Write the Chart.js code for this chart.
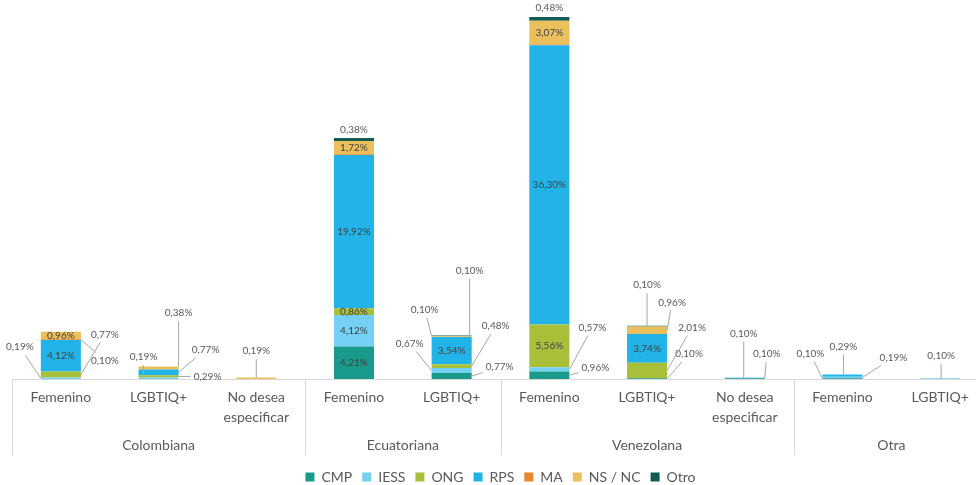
<!DOCTYPE html>
<html>
<head>
<meta charset="utf-8">
<script src="https://cdn.jsdelivr.net/npm/chart.js@4.4.1/dist/chart.umd.min.js"></script>
<style>
  html, body { margin: 0; padding: 0; background: #fff; overflow: hidden; }
  #wrap { width: 992px; height: 494px; }
</style>
</head>
<body>
<div id="wrap"><canvas id="chart"></canvas></div>
<script>
const categories = ['Femenino', 'LGBTIQ+', ['No desea', 'especificar'], 'Femenino', 'LGBTIQ+',
  'Femenino', 'LGBTIQ+', ['No desea', 'especificar'], 'Femenino', 'LGBTIQ+'];
const groups = ['Colombiana', 'Colombiana', 'Colombiana', 'Ecuatoriana', 'Ecuatoriana',
  'Venezolana', 'Venezolana', 'Venezolana', 'Otra', 'Otra'];

const cmp  = [0, 0, 0, 4.21, 0.77, 0.96, 0.10, 0.10, 0.10, 0];
const iess = [0.19, 0.19, 0, 4.12, 0.67, 0.57, 0, 0.10, 0.19, 0.10];
const ong  = [0.77, 0.29, 0, 0.86, 0.48, 5.56, 2.01, 0, 0, 0];
const rps  = [4.12, 0.77, 0, 19.92, 3.54, 36.30, 3.74, 0, 0.29, 0];
const ma   = [0.10, 0, 0, 0.10, 0, 0.10, 0, 0, 0, 0];
const nsnc = [0.96, 0.38, 0.19, 1.72, 0.10, 3.07, 0.96, 0, 0, 0];
const otro = [0, 0, 0, 0.38, 0.10, 0.48, 0.10, 0, 0, 0];

const series = [
  { key: 'cmp', label: 'CMP', data: cmp, color: '#1a9a8b' },
  { key: 'iess', label: 'IESS', data: iess, color: '#76d0f3' },
  { key: 'ong', label: 'ONG', data: ong, color: '#a8bf3a' },
  { key: 'rps', label: 'RPS', data: rps, color: '#22b4e8' },
  { key: 'ma', label: 'MA', data: ma, color: '#e8872a' },
  { key: 'nsnc', label: 'NS / NC', data: nsnc, color: '#ebc05c' },
  { key: 'otro', label: 'Otro', data: otro, color: '#125c55' },
];

// label placement: [dx, dy] from segment centre, third item = no leader line
const callouts = {
  'iess-0': [-41, -31], 'ong-0': [44, -40], 'ma-0': [44, 21],
  'iess-1': [-15, -21], 'ong-1': [49, 0], 'rps-1': [47, -23], 'nsnc-1': [20, -55],
  'nsnc-2': [0, -27],
  'otro-3': [0, -10, true],
  'cmp-4': [48, -9], 'iess-4': [-42, -27], 'ong-4': [44, -40], 'nsnc-4': [18, -66], 'otro-4': [-27, -26],
  'cmp-5': [46, -8], 'iess-5': [43, -42], 'otro-5': [0, -11, true],
  'cmp-6': [42, -25], 'ong-6': [45, -43], 'nsnc-6': [25, -28], 'otro-6': [0, -41],
  'cmp-7': [-1, -45], 'iess-7': [22, -24],
  'cmp-8': [-32, -25], 'iess-8': [51, -20], 'rps-8': [1, -29],
  'iess-9': [1, -23],
};
const hiddenLabels = ['ma-3', 'ma-5'];

const fontFamily = 'Lato, "Open Sans", sans-serif';
const fmt = v => v.toFixed(2).replace('.', ',') + '%';

const labelPlugin = {
  id: 'segLabels',
  afterDatasetsDraw(chart) {
    const ctx = chart.ctx;
    ctx.save();
    ctx.font = '10px ' + fontFamily;
    ctx.textAlign = 'center';
    ctx.textBaseline = 'middle';
    chart.data.datasets.forEach((ds, di) => {
      const meta = chart.getDatasetMeta(di);
      meta.data.forEach((bar, i) => {
        const v = ds.data[i];
        if (!v) return;
        const id = series[di].key + '-' + i;
        if (hiddenLabels.includes(id)) return;
        const p = bar.getProps(['x', 'y', 'base', 'width'], true);
        const cy = (p.y + p.base) / 2;
        const text = fmt(v);
        const c = callouts[id];
        if (!c) {
          ctx.fillStyle = '#404040';
          ctx.fillText(text, p.x, cy);
          return;
        }
        const lx = p.x + c[0];
        const ly = cy + c[1];
        if (!c[2]) {
          const half = p.width / 2;
          let ex = Math.max(p.x - half, Math.min(p.x + half, lx));
          let ey = cy;
          if (Math.abs(c[0]) < half && c[1] < 0) ey = p.y;
          const w = ctx.measureText(text).width / 2 + 3;
          const ddx = ex - lx, ddy = ey - ly;
          const t = Math.min(ddx ? w / Math.abs(ddx) : Infinity, ddy ? 8 / Math.abs(ddy) : Infinity);
          ctx.strokeStyle = '#a6a6a6';
          ctx.lineWidth = 1;
          ctx.beginPath();
          ctx.moveTo(lx + ddx * t, ly + ddy * t);
          ctx.lineTo(ex, ey);
          ctx.stroke();
        }
        ctx.fillStyle = '#595959';
        ctx.fillText(text, lx, ly);
      });
    });
    ctx.restore();
  },
};

const groupPlugin = {
  id: 'groupAxis',
  afterDraw(chart) {
    const ctx = chart.ctx;
    const x = chart.scales.x;
    const bottom = chart.chartArea.bottom;
    const step = x.getPixelForValue(1) - x.getPixelForValue(0);
    ctx.save();
    ctx.strokeStyle = '#d9d9d9';
    ctx.lineWidth = 1;
    ctx.font = '14px ' + fontFamily;
    ctx.fillStyle = '#595959';
    ctx.textAlign = 'center';
    ctx.textBaseline = 'middle';
    let start = 0;
    for (let i = 1; i <= groups.length; i++) {
      if (i === groups.length || groups[i] !== groups[start]) {
        const left = x.getPixelForValue(start) - step / 2;
        const right = x.getPixelForValue(i - 1) + step / 2;
        ctx.beginPath();
        ctx.moveTo(Math.round(left) + 0.5, bottom);
        ctx.lineTo(Math.round(left) + 0.5, bottom + 76);
        ctx.stroke();
        ctx.fillText(groups[start], (left + right) / 2, bottom + 66);
        start = i;
      }
    }
    ctx.restore();
  },
};

const ctx = document.getElementById('chart').getContext('2d');
new Chart(ctx, {
  type: 'bar',
  data: {
    labels: categories,
    datasets: series.map(s => ({
      label: s.label,
      data: s.data,
      backgroundColor: s.color,
      borderWidth: 0,
      barPercentage: 0.41,
      categoryPercentage: 1,
    })),
  },
  options: {
    responsive: true,
    maintainAspectRatio: false,
    animation: false,
    layout: { padding: { top: 2, left: 12, right: 3, bottom: 0 } },
    plugins: {
      legend: {
        position: 'bottom',
        labels: {
          boxWidth: 9,
          boxHeight: 9,
          padding: 10,
          color: '#595959',
          font: { family: fontFamily, size: 14 },
        },
      },
      tooltip: { enabled: false },
    },
    scales: {
      x: {
        stacked: true,
        grid: { display: false },
        border: { color: '#d9d9d9' },
        ticks: {
          color: '#595959',
          padding: 0,
          maxRotation: 0,
          autoSkip: false,
          font: { family: fontFamily, size: 14, lineHeight: 1.43 },
        },
        afterFit: scale => { scale.height = 81; },
      },
      y: {
        stacked: true,
        display: false,
        min: 0,
        max: 49,
      },
    },
  },
  plugins: [labelPlugin, groupPlugin],
});
</script>
</body>
</html>
